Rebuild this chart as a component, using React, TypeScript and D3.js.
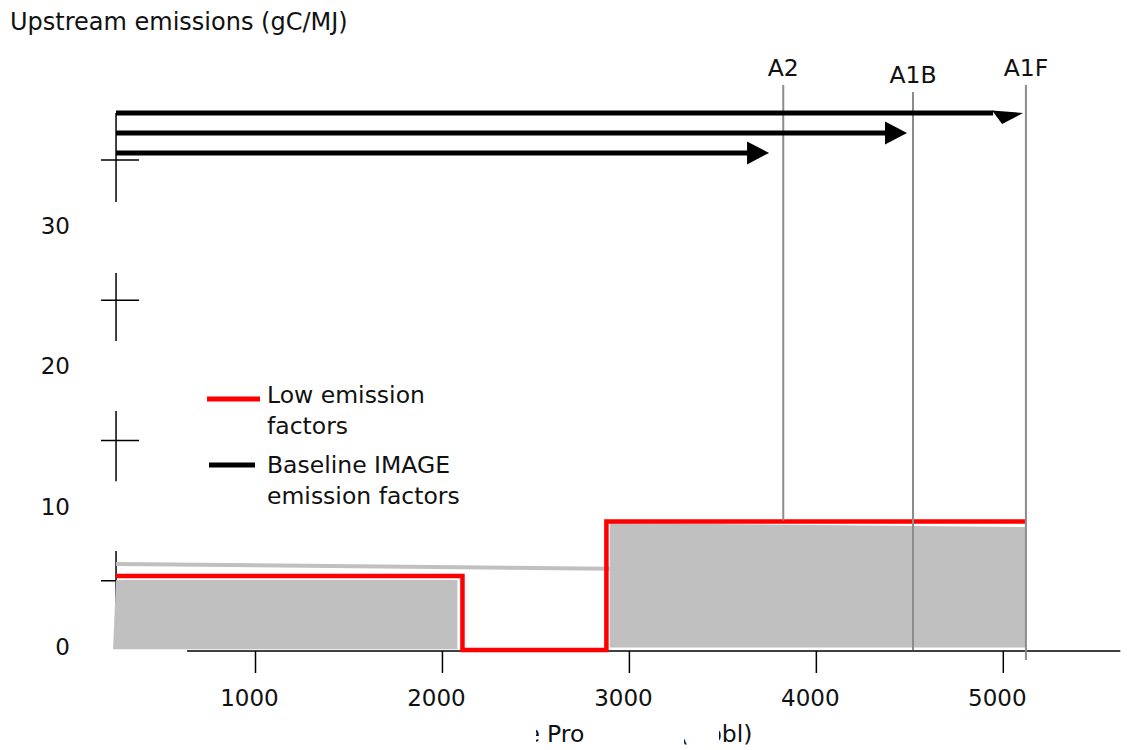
import React, { useEffect } from 'react'
import * as d3 from 'd3'

const width = 1127
const height = 750

// low emission factors step line (cumulative production, gC/MJ)
const lowX = [254, 2107, 2107, 2877, 2877, 5117]
const lowY = [5.35, 5.35, 0.07, 0.07, 9.23, 9.23]

// baseline grey blocks and line
const block1 = [[238, 0.12], [254, 5.06], [2080, 5.06], [2080, 0.12]]
const block2 = [[2895, 0.25], [2895, 9.12], [5122, 8.84], [5122, 0.25]]
const baseLine = [[254, 6.2], [2895, 5.86]]

// scenarios
const scenarios = ['A2', 'A1B', 'A1F']
const scenarioX = [3823, 4517, 5121]
const scenarioTop = [40.34, 39.84, 40.34]
const scenarioBottom = [9.3, 0.07, -0.64]

// arrows
const arrowLevel = [38.35, 36.92, 35.5]
const arrowEnd = [5106, 4485, 3747]

const xTicks = [1000, 2000, 3000, 4000, 5000]
const yLabels = [0, 10, 20, 30]
const yCross = [5, 15, 25, 35]
const ySegments = [[2.5, 7.13], [12.1, 17.1], [22.1, 26.94], [32.0, 38.35]]
const axisStart = 254
const xAxisRange = [634, 5626]

const font = "'DejaVu Sans', Verdana, sans-serif"

function App() {
  useEffect(() => {
    document.body.style.margin = '0'
  }, [])

  const x = d3.scaleLinear().domain([0, 6000]).range([68.55, 1190.25])
  const y = d3.scaleLinear().domain([0, 40]).range([651, 89.8])

  const poly = d3.line<number[]>().x(d => x(d[0])).y(d => y(d[1]))
  const lowPath = d3.line<number>().x((_, i) => x(lowX[i])).y(d => y(d))(lowY) || ''

  const ax = x(axisStart)

  return (
    <svg width={width} height={height} style={{ display: 'block', fontFamily: font }}>
      <defs>
        <clipPath id="xtitle">
          <rect x={536} y={700} width={48} height={50} />
          <rect x={684} y={739} width={8} height={11} />
          <rect x={719} y={700} width={45} height={50} />
        </clipPath>
      </defs>

      <text x={10} y={30} fontSize={24} fill="#111">Upstream emissions (gC/MJ)</text>

      {/* y axis */}
      {ySegments.map((s, i) => (
        <line key={'ys' + i} x1={ax} x2={ax} y1={y(s[0])} y2={y(s[1])} stroke="#000" strokeWidth={1.5} />
      ))}
      {yCross.map(v => (
        <line key={'yc' + v} x1={ax - 15} x2={ax + 23} y1={y(v)} y2={y(v)} stroke="#000" strokeWidth={1.5} />
      ))}
      {yLabels.map(v => (
        <text key={'yl' + v} x={70} y={y(v) + 4} fontSize={23} textAnchor="end" fill="#111">{v}</text>
      ))}

      {/* x axis */}
      <line x1={x(xAxisRange[0])} x2={x(xAxisRange[1])} y1={y(0)} y2={y(0)} stroke="#000" strokeWidth={1.5} />
      {xTicks.map(v => (
        <g key={'xt' + v}>
          <line x1={x(v)} x2={x(v)} y1={y(0)} y2={y(0) + 22} stroke="#000" strokeWidth={1.5} />
          <text x={x(v) - 6} y={706} fontSize={23} textAnchor="middle" fill="#111">{v}</text>
        </g>
      ))}
      <g clipPath="url(#xtitle)" fontSize={23.5} fill="#111">
        <text x={540} y={742} textAnchor="end">Cumulative</text>
        <text x={547} y={742}>Production (Gbbl)</text>
      </g>

      {/* grey baseline blocks */}
      <path d={(poly(block1) || '') + 'Z'} fill="#c0c0c0" />
      <path d={(poly(block2) || '') + 'Z'} fill="#c0c0c0" />
      <path d={poly(baseLine) || ''} stroke="#c0c0c0" strokeWidth={4} fill="none" />

      {/* low emission */}
      <path d={lowPath} stroke="#ff0000" strokeWidth={4.5} fill="none" />

      {/* scenario lines */}
      {scenarios.map((s, i) => (
        <g key={s}>
          <line x1={x(scenarioX[i])} x2={x(scenarioX[i])} y1={y(scenarioTop[i])} y2={y(scenarioBottom[i])}
            stroke="#8c8c8c" strokeWidth={2} />
          <text x={x(scenarioX[i])} y={y(scenarioTop[i]) - 9} fontSize={23.5} textAnchor="middle" fill="#111">{s}</text>
        </g>
      ))}

      {/* arrows */}
      {arrowLevel.map((lv, i) => {
        const yy = y(lv)
        const tip = x(arrowEnd[i])
        const base = tip - (i === 0 ? 31 : 22)
        const head = i === 0
          ? `M${base},${yy - 2.5}L${tip},${yy}L${tip - 21},${yy + 11}Z`
          : `M${base},${yy - 11.5}L${tip},${yy}L${base},${yy + 11.5}Z`
        return (
          <g key={'ar' + i}>
            <line x1={ax} x2={base + 1} y1={yy} y2={yy} stroke="#000" strokeWidth={5} />
            <path d={head} fill="#000" />
          </g>
        )
      })}

      {/* legend */}
      <line x1={207} x2={260} y1={399} y2={399} stroke="#ff0000" strokeWidth={5} />
      <text x={267} y={403} fontSize={23.5} fill="#111">Low emission</text>
      <text x={267} y={434} fontSize={23.5} fill="#111">factors</text>
      <line x1={209} x2={255} y1={465} y2={465} stroke="#000" strokeWidth={5} />
      <text x={267} y={473} fontSize={23.5} fill="#111">Baseline IMAGE</text>
      <text x={267} y={504} fontSize={23.5} fill="#111">emission factors</text>
    </svg>
  )
}

export default App
